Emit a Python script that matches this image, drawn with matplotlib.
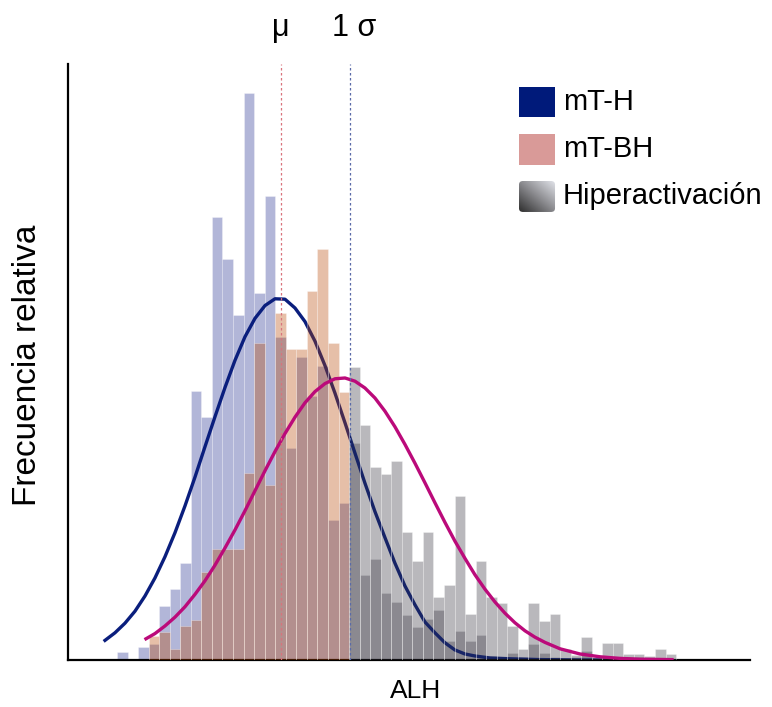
import numpy as np
import matplotlib
matplotlib.use('Agg')
import matplotlib.pyplot as plt
import matplotlib.transforms as mtransforms
from matplotlib import font_manager
from matplotlib.patches import Rectangle, FancyBboxPatch
from matplotlib.colors import LinearSegmentedColormap

# histogram bins (ALH) and relative frequencies (%)
bin_start = 1.0
bin_width = 0.25
freq_mTH = [0.2, 0, 0.33, 0.4, 1.35, 1.78, 2.43, 6.73, 6.08, 11.08, 10.03, 8.63, 14.18, 9.18,
            11.6, 8.08, 5.3, 7.58, 6.6, 7.35, 3.5, 3.93,
            5.43, 2.13, 2.53, 1.68, 1.45, 1.13, 0.83, 1.03, 1.25, 0.48, 0.73, 0.48, 0.63, 0.1,
            0.05, 0.18, 0.08, 0.4, 0.18, 0.08, 0, 0.08, 0.23, 0, 0, 0, 0.08, 0.08, 0.1, 0, 0]
freq_mTBH = [0, 0, 0, 0.6, 0.7, 0.28, 0.85, 1.0, 2.2, 2.78, 2.78, 2.78, 4.68, 7.93,
             4.38, 8.68, 7.78, 7.78, 9.23, 10.28, 7.93, 6.7,
             7.33, 5.88, 4.83, 4.65, 4.98, 3.2, 2.48, 3.2, 1.58, 1.88, 4.1, 1.15, 2.48, 1.58,
             1.43, 0.85, 0.28, 1.43, 0.98, 1.15, 0.28, 0.13, 0.58, 0.08, 0.43, 0.43, 0.15, 0.15,
             0, 0.28, 0.15]
mu_alh = 4.89
sigma_alh = 6.52   # 1 sigma, start of hyperactivation

# fitted curves
curve_mTH_x = [0.716, 0.953, 1.190, 1.427, 1.664, 1.900, 2.137, 2.374, 2.611, 2.848, 3.085,
               3.322, 3.559, 3.796, 4.033, 4.270, 4.507, 4.744, 4.981, 5.218, 5.455, 5.692,
               5.929, 6.166, 6.403, 6.640, 6.876, 7.113, 7.350, 7.587, 7.824, 8.061, 8.298,
               8.535, 8.772, 9.009, 9.246, 9.483, 9.839, 10.313, 11.024, 11.972, 13.394]
curve_mTH_y = [0.49, 0.68, 0.92, 1.22, 1.60, 2.05, 2.58, 3.18, 3.85, 4.57, 5.33, 6.08, 6.81,
               7.49, 8.08, 8.54, 8.86, 9.03, 9.02, 8.80, 8.46, 7.97, 7.36, 6.67, 5.93, 5.17,
               4.42, 3.71, 3.06, 2.42, 1.85, 1.38, 0.95, 0.68, 0.43, 0.25, 0.15, 0.10, 0.05,
               0.03, 0.01, 0.0, 0.0]
curve_mTBH_x = [1.687, 1.900, 2.137, 2.374, 2.611, 2.848, 3.085, 3.322, 3.559, 3.796, 4.033,
                4.270, 4.507, 4.744, 4.981, 5.218, 5.455, 5.692, 5.929, 6.166, 6.403, 6.640,
                6.876, 7.113, 7.350, 7.587, 7.824, 8.061, 8.298, 8.535, 8.772, 9.009, 9.246,
                9.483, 9.720, 9.957, 10.194, 10.431, 10.668, 10.905, 11.142, 11.498, 11.972,
                12.446, 12.920, 13.394, 14.152]
curve_mTBH_y = [0.53, 0.66, 0.85, 1.07, 1.33, 1.64, 1.98, 2.37, 2.80, 3.25, 3.73, 4.23, 4.73,
                5.21, 5.66, 6.07, 6.43, 6.71, 6.91, 7.03, 7.05, 6.97, 6.80, 6.55, 6.22, 5.83,
                5.39, 4.92, 4.43, 3.93, 3.44, 2.97, 2.54, 2.13, 1.77, 1.45, 1.17, 0.93, 0.73,
                0.57, 0.44, 0.28, 0.15, 0.08, 0.04, 0.02, 0.01]

legend_labels = ['mT-H', 'mT-BH', 'Hiperactivación']

plt.rcParams['font.family'] = ['Liberation Sans', 'DejaVu Sans']
names = {f.name for f in font_manager.fontManager.ttflist}
if 'Liberation Sans Narrow' in names:
    label_font = dict(family=['Liberation Sans Narrow', 'Liberation Sans'], size=29)
    alh_font = dict(family=['Liberation Sans Narrow', 'Liberation Sans'], size=21)
else:
    label_font = dict(size=24)
    alh_font = dict(size=19)

blue_c = '#1f2b8f'
orange_c = '#b64400'
gray_c = '#32303c'
navy = '#0a1e7d'
magenta = '#bb0a7a'

fig = plt.figure(figsize=(7.72, 7.07), dpi=100)
ax = fig.add_axes([0.0881, 0.0665, 0.8834, 0.843])

edges = bin_start + bin_width * np.arange(len(freq_mTH))
hyper = edges >= sigma_alh - 0.05

ax.bar(edges, freq_mTH, width=bin_width, align='edge',
       color=[gray_c if h else blue_c for h in hyper], alpha=0.34,
       edgecolor='white', linewidth=0.6, zorder=1)
ax.plot(curve_mTH_x, curve_mTH_y, color=navy, lw=2.4, zorder=2, solid_joinstyle='round')
ax.bar(edges, freq_mTBH, width=bin_width, align='edge',
       color=[gray_c if h else orange_c for h in hyper], alpha=0.34,
       edgecolor='white', linewidth=0.6, zorder=3)
ax.plot(curve_mTBH_x, curve_mTBH_y, color=magenta, lw=2.4, zorder=4, solid_joinstyle='round')

ax.axvline(mu_alh, color='#d9737c', lw=0.9, ls=(0, (2, 2)), zorder=5)
ax.axvline(sigma_alh, color='#5a6aa8', lw=0.9, ls=(0, (2, 2)), zorder=5)

trans = mtransforms.blended_transform_factory(ax.transData, ax.transAxes)
ax.text(mu_alh, 1.06, 'μ', transform=trans, ha='center', va='center', fontsize=22)
ax.text(sigma_alh + 0.09, 1.06, '1 σ', transform=trans, ha='center', va='center', fontsize=22)

for s in ['top', 'right']:
    ax.spines[s].set_visible(False)
for s in ['left', 'bottom']:
    ax.spines[s].set_linewidth(1.6)
ax.set_xticks([])
ax.set_yticks([])

ax.text(0.509, -0.052, 'ALH', transform=ax.transAxes, ha='center', va='center', **alh_font)
ax.text(-0.0587, 0.495, 'Frecuencia relativa', transform=ax.transAxes, rotation=90,
        ha='center', va='center', **label_font)

# legend drawn by hand (gradient swatch for hyperactivation)
px0, px1 = 0.6613, 0.7141
rows = [(0.9111, 0.9614), (0.8305, 0.8826), (0.7517, 0.8037)]
ax.add_patch(Rectangle((px0, rows[0][0]), px1 - px0, rows[0][1] - rows[0][0],
                       transform=ax.transAxes, color='#001a7a', lw=0))
ax.add_patch(Rectangle((px0, rows[1][0]), px1 - px0, rows[1][1] - rows[1][0],
                       transform=ax.transAxes, color='#d99a98', lw=0))
gx, gy = np.meshgrid(np.linspace(0, 1, 60), np.linspace(0, 1, 60))
grad = (gx + gy) / 2
cmap = LinearSegmentedColormap.from_list('hyp', ['#2e2e2e', '#8a8a8e', '#e2e4ea'])
im = ax.imshow(grad, cmap=cmap, origin='lower', aspect='auto', transform=ax.transAxes,
               extent=[px0, px1, rows[2][0], rows[2][1]], zorder=6)
clip = FancyBboxPatch((px0, rows[2][0]), px1 - px0, rows[2][1] - rows[2][0],
                      boxstyle='round,pad=0,rounding_size=0.006', transform=ax.transAxes,
                      facecolor='none', edgecolor='none')
ax.add_patch(clip)
im.set_clip_path(clip)
for (y0, y1), lab in zip(rows, legend_labels):
    ax.text(0.7258, (y0 + y1) / 2, lab, transform=ax.transAxes, ha='left', va='center',
            fontsize=21, clip_on=False)

ax.set_xlim(-0.16, 16.0)
ax.set_ylim(0, 14.9)
fig.savefig('out.png', dpi=100)
